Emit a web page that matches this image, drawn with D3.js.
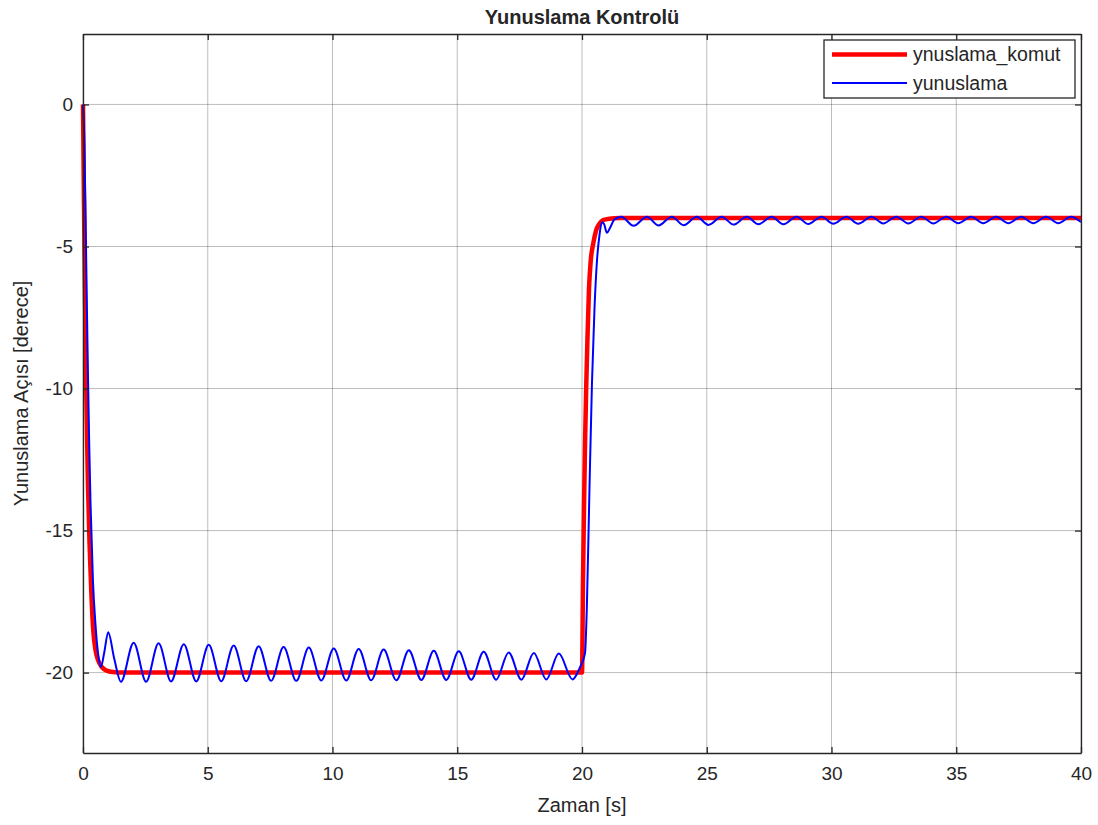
<!DOCTYPE html>
<html>
<head>
<meta charset="utf-8">
<script src="https://cdn.jsdelivr.net/npm/d3@7"></script>
<style>
    body { margin: 0; background: #fff; }
    svg text { font-family: "Liberation Sans", Arial, sans-serif; fill: #262626; }
</style>
</head>
<body>
<div id="chart"></div>
<script>
// komut (reference) signal
const komutTime = [0, 0.04, 0.08, 0.12, 0.16, 0.2, 0.26, 0.33, 0.41, 0.5, 0.6, 0.75, 0.95, 1.2, 1.6,
    20.0, 20.04, 20.08, 20.12, 20.17, 20.22, 20.28, 20.35, 20.45, 20.56, 20.7, 20.85, 21.1, 21.5, 40];
const komutValue = [0, -3.5, -6.7, -9.4, -11.6, -13.4, -15.4, -17.1, -18.5, -19.2, -19.55, -19.8, -19.93, -19.98, -20,
    -20, -16.8, -14.2, -12.0, -9.9, -8.2, -6.5, -5.5, -4.9, -4.45, -4.2, -4.07, -4.02, -4.0, -4.0];

// measured pitch signal
const yunuslamaTime = [0, 0.05, 0.1, 0.15, 0.2, 0.25, 0.3, 0.4, 0.5, 0.6, 0.72, 0.85, 1.01, 1.25, 1.52,
    2.03, 2.53, 3.03, 3.53, 4.04, 4.54, 5.04, 5.54, 6.04, 6.54, 7.04, 7.54, 8.04, 8.55, 9.05, 9.55,
    10.05, 10.55, 11.05, 11.55, 12.05, 12.56, 13.06, 13.56, 14.06, 14.56, 15.06, 15.56, 16.06, 16.56,
    17.06, 17.57, 18.07, 18.57, 19.07, 19.62, 19.9, 20.12,
    20.2, 20.3, 20.4, 20.5, 20.6, 20.7, 20.8, 20.88, 21.0, 21.12, 21.3, 21.57,
    22.07, 22.6, 23.07, 23.6, 24.07, 24.6, 25.07, 25.6, 26.07, 26.6, 27.07, 27.6, 28.07, 28.6, 29.07, 29.6,
    30.07, 30.6, 31.07, 31.6, 32.07, 32.6, 33.08, 33.6, 34.08, 34.6, 35.08, 35.6, 36.08, 36.6, 37.09, 37.6,
    38.09, 38.6, 39.09, 39.6, 40];
const yunuslamaValue = [0, -1.2, -3.8, -6.8, -9.6, -12.0, -14.0, -16.8, -18.3, -19.3, -19.8, -19.3, -18.58, -19.5, -20.32,
    -18.95, -20.32, -18.97, -20.31, -19.0, -20.31, -19.02, -20.3, -19.05, -20.3, -19.07, -20.29, -19.1, -20.29, -19.12, -20.28,
    -19.15, -20.28, -19.17, -20.27, -19.19, -20.27, -19.21, -20.26, -19.23, -20.26, -19.25, -20.25, -19.27, -20.25,
    -19.29, -20.25, -19.31, -20.24, -19.33, -20.24, -19.85, -19.32,
    -17.5, -13.5, -9.8, -7.2, -5.5, -4.6, -4.15, -4.2, -4.52, -4.35, -4.05, -3.95,
    -4.27, -3.95, -4.26, -3.95, -4.25, -3.95, -4.24, -3.95, -4.23, -3.95, -4.22, -3.95, -4.22, -3.95, -4.21, -3.95,
    -4.2, -3.95, -4.2, -3.95, -4.19, -3.95, -4.19, -3.95, -4.19, -3.95, -4.18, -3.95, -4.18, -3.95, -4.18, -3.95,
    -4.18, -3.95, -4.18, -3.95, -4.14];

const xTicks = [0, 5, 10, 15, 20, 25, 30, 35, 40];
const yTicks = [-20, -15, -10, -5, 0];
const seriesNames = ["ynuslama_komut", "yunuslama"];

const width = 1098, height = 825;
const margin = { top: 34, right: 17, bottom: 72, left: 83 };
const innerW = width - margin.left - margin.right;
const innerH = height - margin.top - margin.bottom;

const svg = d3.select("#chart").append("svg")
    .attr("width", width)
    .attr("height", height);

const x = d3.scaleLinear().domain([0, 40]).range([0, innerW]);
const y = d3.scaleLinear().domain([-22.83, 2.48]).range([innerH, 0]);

const g = svg.append("g").attr("transform", `translate(${margin.left},${margin.top})`);

// grid
g.append("g").selectAll("line").data(xTicks).join("line")
    .attr("x1", d => x(d)).attr("x2", d => x(d))
    .attr("y1", 0).attr("y2", innerH)
    .attr("stroke", "#262626").attr("stroke-opacity", 0.3).attr("stroke-width", 1);
g.append("g").selectAll("line").data(yTicks).join("line")
    .attr("x1", 0).attr("x2", innerW)
    .attr("y1", d => y(d)).attr("y2", d => y(d))
    .attr("stroke", "#262626").attr("stroke-opacity", 0.3).attr("stroke-width", 1);

// lines
const toPoints = (ts, vs) => ts.map((t, i) => [t, vs[i]]);
const line = d3.line().x(d => x(d[0])).y(d => y(d[1])).curve(d3.curveMonotoneX);

g.append("path")
    .datum(toPoints(komutTime, komutValue))
    .attr("d", line)
    .attr("fill", "none").attr("stroke", "#ff0000").attr("stroke-width", 4.5)
    .attr("stroke-linejoin", "round");

g.append("path")
    .datum(toPoints(yunuslamaTime, yunuslamaValue))
    .attr("d", line)
    .attr("fill", "none").attr("stroke", "#0000ff").attr("stroke-width", 2)
    .attr("stroke-linejoin", "round");

// axes (box with inward ticks on all sides); plain hyphen for negatives
const fmt = d => String(d);
const tickLen = 6;
const xBottom = g.append("g").attr("transform", `translate(0,${innerH})`)
    .call(d3.axisBottom(x).tickValues(xTicks).tickFormat(fmt).tickSizeInner(-tickLen).tickSizeOuter(0).tickPadding(14));
const xTop = g.append("g")
    .call(d3.axisTop(x).tickValues(xTicks).tickSizeInner(-tickLen).tickSizeOuter(0).tickFormat(""));
const yLeft = g.append("g")
    .call(d3.axisLeft(y).tickValues(yTicks).tickFormat(fmt).tickSizeInner(-tickLen).tickSizeOuter(0).tickPadding(10));
const yRight = g.append("g").attr("transform", `translate(${innerW},0)`)
    .call(d3.axisRight(y).tickValues(yTicks).tickSizeInner(-tickLen).tickSizeOuter(0).tickFormat(""));

[xBottom, xTop, yLeft, yRight].forEach(a => {
    a.select(".domain").attr("stroke", "#262626").attr("stroke-width", 1.3);
    a.selectAll(".tick line").attr("stroke", "#262626").attr("stroke-width", 1.3);
    a.selectAll(".tick text").style("font-size", "19px").attr("fill", "#333");
});

// title and axis labels
svg.append("text")
    .attr("x", margin.left + innerW / 2).attr("y", 24)
    .attr("text-anchor", "middle")
    .style("font-size", "20px").style("font-weight", "bold")
    .text("Yunuslama Kontrolü");

svg.append("text")
    .attr("x", margin.left + innerW / 2).attr("y", 812)
    .attr("text-anchor", "middle")
    .style("font-size", "20px")
    .text("Zaman [s]");

svg.append("text")
    .attr("transform", `translate(28,${margin.top + innerH / 2}) rotate(-90)`)
    .attr("text-anchor", "middle")
    .style("font-size", "20px")
    .text("Yunuslama Açısı [derece]");

// legend
const legend = svg.append("g").attr("transform", "translate(824,40)");
legend.append("rect")
    .attr("width", 251).attr("height", 58)
    .attr("fill", "#fff").attr("stroke", "#262626").attr("stroke-width", 1.3);
const legendColors = ["#ff0000", "#0000ff"];
const legendWidths = [4.5, 2];
seriesNames.forEach((name, i) => {
    const ly = 14.5 + i * 28.5;
    legend.append("line")
        .attr("x1", 8).attr("x2", 83).attr("y1", ly).attr("y2", ly)
        .attr("stroke", legendColors[i]).attr("stroke-width", legendWidths[i]);
    legend.append("text")
        .attr("x", 89).attr("y", ly).attr("dy", "0.35em")
        .style("font-size", "19.5px")
        .text(name);
});
</script>
</body>
</html>
